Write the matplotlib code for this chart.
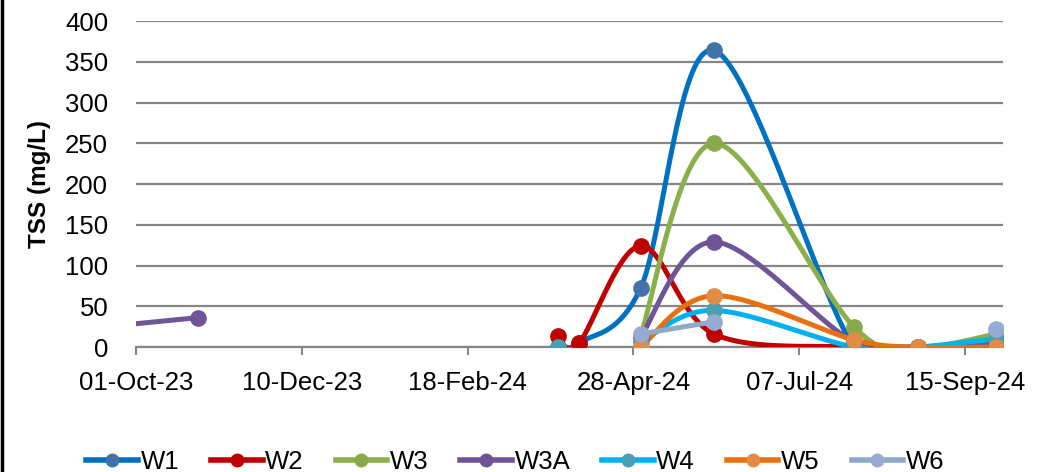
import numpy as np
import matplotlib
matplotlib.use("Agg")
import matplotlib.pyplot as plt
import matplotlib.dates as mdates
from matplotlib.lines import Line2D

plt.rcParams['font.family'] = ['Liberation Sans', 'DejaVu Sans']

# sampling dates (one column per sampling event)
dates = np.array(['2023-09-01', '2023-10-27', '2024-03-27', '2024-04-05', '2024-05-01',
                  '2024-06-01', '2024-07-30', '2024-08-26', '2024-09-28'], dtype='datetime64[D]')
nan = np.nan
w1 = [nan, nan, 0, 5, 72, 364, 0, 0, 4]
w2 = [nan, nan, 13, 5, 124, 16, 0, 0, 0]
w3 = [nan, nan, nan, nan, 14, 250, 25, 0, 16]
w3a = [20, 36, nan, nan, 12, 129, 6, 0, 3]
w4 = [nan, nan, 0, nan, 6, 45, 0, 0, 10]
w5 = [nan, nan, nan, nan, 0, 63, 9, 0, 0]
w6 = [nan, nan, nan, nan, 16, 31, nan, nan, 22]

names = ["W1", "W2", "W3", "W3A", "W4", "W5", "W6"]
series = [w1, w2, w3, w3a, w4, w5, w6]
line_cols = ['#0070C0', '#C00000', '#8AAF4B', '#6E5597', '#00B0F0', '#E8710F', '#8EA9C9']
mark_cols = ['#4472A8', '#C00000', '#88AA4A', '#6E5494', '#4A9FB5', '#E38B44', '#96AAD3']

x0 = np.datetime64('2023-10-01')
x1 = np.datetime64('2024-10-01')
ymax = 400

fig = plt.figure(figsize=(10.41, 4.72), dpi=100)
ax = fig.add_axes([0.1306, 0.2648, 0.8329, 0.6907])

# pixel scale so the smoothing looks like the spreadsheet's
W = fig.get_figwidth() * fig.dpi * 0.8329
H = fig.get_figheight() * fig.dpi * 0.6907
sx = W / (x1 - x0).astype(float)
sy = H / ymax

def smooth(xd, yv, n=40):
    # Catmull-Rom style bezier through points, in pixel-ish units
    px = xd * sx
    py = yv * sy
    outx, outy = [], []
    m = len(px)
    if m == 1:
        return xd, yv
    for i in range(m - 1):
        p0 = np.array([px[max(i - 1, 0)], py[max(i - 1, 0)]])
        p1 = np.array([px[i], py[i]])
        p2 = np.array([px[i + 1], py[i + 1]])
        p3 = np.array([px[min(i + 2, m - 1)], py[min(i + 2, m - 1)]])
        c1 = p1 + (p2 - p0) / 6
        c2 = p2 - (p3 - p1) / 6
        t = np.linspace(0, 1, n)[:, None]
        b = (1 - t) ** 3 * p1 + 3 * (1 - t) ** 2 * t * c1 + 3 * (1 - t) * t ** 2 * c2 + t ** 3 * p2
        outx.extend(b[:, 0])
        outy.extend(b[:, 1])
    return np.array(outx) / sx, np.array(outy) / sy

days = (dates - x0).astype(float)

for name, vals, lc, mc in zip(names, series, line_cols, mark_cols):
    v = np.array(vals, dtype=float)
    ok = ~np.isnan(v)
    # split into runs without gaps
    idx = np.where(ok)[0]
    runs = np.split(idx, np.where(np.diff(idx) > 1)[0] + 1)
    for r in runs:
        if len(r) > 1:
            cx, cy = smooth(days[r], v[r])
            ax.plot(x0 + np.round(cx * 24 * 60).astype('timedelta64[m]'), cy,
                    color=lc, lw=3.6, solid_capstyle='round', zorder=3)
    ax.plot(dates[ok], v[ok], 'o', color=mc, ms=11, mec=mc, zorder=4)

ax.set_xlim(x0, x1)
ax.set_ylim(0, ymax)
ax.set_yticks(np.arange(0, 401, 50))
ticks = np.arange(x0, x1, np.timedelta64(70, 'D'))
ax.set_xticks(ticks)
ax.xaxis.set_major_formatter(mdates.DateFormatter('%d-%b-%y'))

ax.grid(axis='y', color='#868686', lw=1.6)
ax.set_axisbelow(True)
for s in ['top', 'right', 'left']:
    ax.spines[s].set_visible(False)
ax.spines['bottom'].set_color('#868686')
ax.spines['bottom'].set_linewidth(1.6)
ax.tick_params(axis='y', length=0, pad=20, labelsize=18.5)
ax.tick_params(axis='x', length=6, width=1.5, color='#868686', pad=11, labelsize=18.5)
ax.set_ylabel('TSS (mg/L)', fontsize=17.5, fontweight='bold', labelpad=10)

handles = [Line2D([], [], color=lc, lw=4, marker='o', ms=9, mfc=mc, mec=mc)
           for lc, mc in zip(line_cols, mark_cols)]
fig.legend(handles, names, loc='center', bbox_to_anchor=(0.495, 0.022), ncol=7,
           frameon=False, fontsize=18.5, handlelength=2.0, handletextpad=0.1,
           columnspacing=1.25)

fig.add_artist(Line2D([0.002, 0.002], [0, 1], color='black', lw=2.5, transform=fig.transFigure))

fig.savefig('out.png', dpi=100)
